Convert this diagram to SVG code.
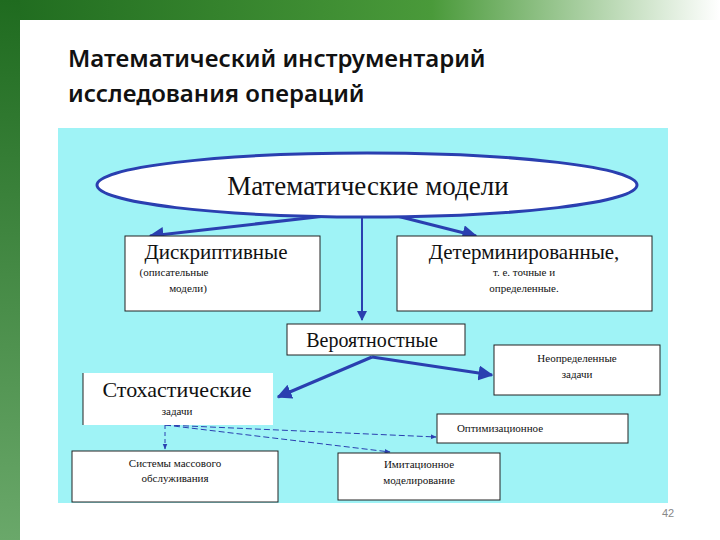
<svg xmlns="http://www.w3.org/2000/svg" width="720" height="540" viewBox="0 0 720 540">
<defs>
<linearGradient id="top" x1="0" x2="1" y1="0" y2="0"><stop offset="0" stop-color="#1f6b1f"/><stop offset="0.6" stop-color="#4a9a3a"/><stop offset="1" stop-color="#ffffff"/></linearGradient>
<linearGradient id="left" x1="0" x2="0" y1="0" y2="1"><stop offset="0" stop-color="#1f6b1f"/><stop offset="1" stop-color="#6aa86a"/></linearGradient>
<marker id="a" viewBox="0 0 10 10" refX="9" refY="5" markerWidth="5" markerHeight="5" orient="auto"><path d="M0,0L10,5L0,10z" fill="#2a3fb0"/></marker>
<marker id="s" viewBox="0 0 10 10" refX="9" refY="5" markerWidth="6" markerHeight="6" orient="auto"><path d="M0,1L10,5L0,9z" fill="#2a3fb0"/></marker>
</defs>
<style>
.b{fill:#fff;stroke:#222;stroke-width:1}
.t{font-family:"Liberation Serif",serif;fill:#111;text-anchor:middle}
.c{stroke:#2a3fb0;fill:none}
</style>
<rect width="720" height="540" fill="#fff"/>
<rect x="0" y="0" width="720" height="20" fill="url(#top)"/>
<rect x="0" y="0" width="20" height="540" fill="url(#left)"/>
<text x="68" y="67" font-family="Noto Sans,DejaVu Sans,sans-serif" font-size="24" font-weight="600" fill="#111">Математический инструментарий</text>
<text x="68" y="102" font-family="Noto Sans,DejaVu Sans,sans-serif" font-size="24" font-weight="600" fill="#111">исследования операций</text>
<rect x="58" y="128" width="610" height="375" fill="#9ff3f6"/>
<g id="connectors">
<line class="c" x1="334" y1="215" x2="150" y2="236" stroke-width="3" marker-end="url(#a)"/>
<line class="c" x1="393" y1="215" x2="476" y2="236" stroke-width="3" marker-end="url(#a)"/>
<line class="c" x1="362" y1="217" x2="362" y2="320" stroke-width="2" marker-end="url(#a)"/>
<line class="c" x1="372" y1="357" x2="278" y2="397" stroke-width="3" marker-end="url(#a)"/>
<line class="c" x1="372" y1="357" x2="492" y2="375" stroke-width="3" marker-end="url(#a)"/>
<line class="c" x1="165" y1="425" x2="165" y2="449" stroke-dasharray="4,3" marker-end="url(#s)"/>
<line class="c" x1="165" y1="425" x2="436" y2="437" stroke-dasharray="6,3" marker-end="url(#s)"/>
<line class="c" x1="165" y1="425" x2="390" y2="452" stroke-dasharray="6,3" marker-end="url(#s)"/>
</g>
<g id="root"><ellipse cx="367" cy="185" rx="270" ry="32" fill="#fff" stroke="#2a3fb0" stroke-width="3"/><text class="t" x="368" y="195" font-size="27">Математические модели</text></g>
<g id="desc"><rect class="b" x="125" y="236" width="195" height="75"/><text class="t" x="216" y="259" font-size="21">Дискриптивные</text><text class="t" x="174" y="276" font-size="11">(описательные</text><text class="t" x="188" y="292" font-size="11">модели)</text></g>
<g id="det"><rect class="b" x="397" y="236" width="255" height="75"/><text class="t" x="524" y="259" font-size="21">Детерминированные,</text><text class="t" x="524" y="276" font-size="11">т. е. точные и</text><text class="t" x="524" y="292" font-size="11">определенные.</text></g>
<g id="ver"><rect class="b" x="287" y="324" width="178" height="31"/><text class="t" x="372" y="347" font-size="20">Вероятностные</text></g>
<g id="neop"><rect class="b" x="494" y="345" width="166" height="50"/><text class="t" x="577" y="362" font-size="11">Неопределенные</text><text class="t" x="577" y="378" font-size="11">задачи</text></g>
<g id="stoch"><rect x="83" y="373" width="190" height="52" fill="#fff"/><line x1="83" y1="373" x2="83" y2="425" stroke="#222"/><text class="t" x="177" y="397" font-size="22">Стохастические</text><text class="t" x="177" y="415" font-size="11">задачи</text></g>
<g id="opt"><rect class="b" x="437" y="414" width="191" height="29"/><text class="t" x="500" y="432" font-size="11">Оптимизационное</text></g>
<g id="smo"><rect class="b" x="72" y="451" width="206" height="51"/><text class="t" x="175" y="467" font-size="11">Системы массового</text><text class="t" x="175" y="482" font-size="11">обслуживания</text></g>
<g id="imit"><rect class="b" x="338" y="453" width="162" height="47"/><text class="t" x="419" y="468" font-size="11">Имитационное</text><text class="t" x="419" y="484" font-size="11">моделирование</text></g>
<text x="668" y="517" font-family="Liberation Sans,sans-serif" font-size="11" fill="#888" text-anchor="middle">42</text>
</svg>
